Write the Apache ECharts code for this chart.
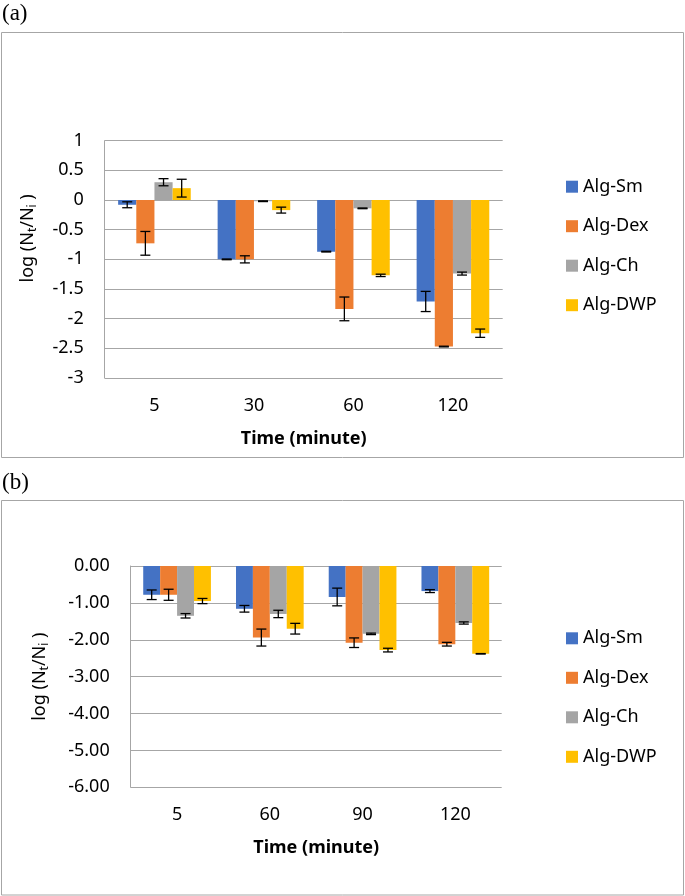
<!DOCTYPE html>
<html>
<head>
<meta charset="utf-8">
<script src="https://cdn.jsdelivr.net/npm/echarts@6/dist/echarts.min.js"></script>
<style>html,body{margin:0;padding:0;background:#fff}#c{width:685px;height:896px}</style>
</head>
<body>
<div id="c"></div>
<script>
// ---- data ----
const seriesNames = ['Alg-Sm', 'Alg-Dex', 'Alg-Ch', 'Alg-DWP'];
const colors = ['#4472C4', '#ED7D31', '#A5A5A5', '#FFC000'];

// panel (a)
const categoriesA = ['5', '30', '60', '120'];
const smA = [-0.08, -1.0, -0.87, -1.71];
const smAErr = [0.05, 0.006, 0.006, 0.17];
const dexA = [-0.73, -1.0, -1.835, -2.47];
const dexAErr = [0.2, 0.06, 0.2, 0.006];
const chA = [0.30, -0.02, -0.14, -1.24];
const chAErr = [0.06, 0.006, 0.006, 0.025];
const dwpA = [0.2, -0.17, -1.27, -2.245];
const dwpAErr = [0.15, 0.05, 0.02, 0.07];
const yTicksA = { min: -3, max: 1, interval: 0.5 };

// panel (b)
const categoriesB = ['5', '60', '90', '120'];
const smB = [-0.78, -1.16, -0.84, -0.68];
const smBErr = [0.13, 0.09, 0.24, 0.04];
const dexB = [-0.78, -1.94, -2.08, -2.12];
const dexBErr = [0.15, 0.23, 0.13, 0.05];
const chB = [-1.35, -1.30, -1.84, -1.545];
const chBErr = [0.06, 0.10, 0.02, 0.03];
const dwpB = [-0.95, -1.70, -2.28, -2.38];
const dwpBErr = [0.07, 0.145, 0.05, 0.006];
const yTicksB = { min: -6, max: 0, interval: 1 };

const xTitle = 'Time (minute)';
const yTitle = 'log (N{s|t}/N{s|i} )';

// ---- chart ----
const FONT = 'Noto Sans';
const GAP = 0.27;
const chart = echarts.init(document.getElementById('c'), null, { renderer: 'canvas' });

function barSeries(name, data, idx, g) {
  return {
    name: name, type: 'bar', data: data, xAxisIndex: g, yAxisIndex: g,
    barGap: '0%', barCategoryGap: (GAP * 100) + '%',
    itemStyle: { color: colors[idx] }, z: 2, animation: false
  };
}
function errSeries(name, data, err, idx, g) {
  return {
    name: name, type: 'custom', xAxisIndex: g, yAxisIndex: g, z: 10, animation: false,
    silent: true,
    data: data.map((v, i) => [i, v, err[i]]),
    encode: { x: 0, y: 1 },
    renderItem: function (params, api) {
      const band = api.size([1, 0])[0];
      const bw = band * (1 - GAP) / 4;
      const ci = api.value(0), v = api.value(1), e = api.value(2);
      const c = api.coord([ci, v]);
      const x = c[0] + (idx - 1.5) * bw;
      const yt = api.coord([ci, v + e])[1];
      const yb = api.coord([ci, v - e])[1];
      const cap = 5;
      const st = { stroke: '#000', lineWidth: 1.3 };
      return {
        type: 'group', children: [
          { type: 'line', shape: { x1: x, y1: yt, x2: x, y2: yb }, style: st },
          { type: 'line', shape: { x1: x - cap, y1: yt, x2: x + cap, y2: yt }, style: st },
          { type: 'line', shape: { x1: x - cap, y1: yb, x2: x + cap, y2: yb }, style: st }
        ]
      };
    }
  };
}

const dataA = [smA, dexA, chA, dwpA], errA = [smAErr, dexAErr, chAErr, dwpAErr];
const dataB = [smB, dexB, chB, dwpB], errB = [smBErr, dexBErr, chBErr, dwpBErr];
const series = [];
seriesNames.forEach((n, i) => series.push(barSeries(n, dataA[i], i, 0)));
seriesNames.forEach((n, i) => series.push(barSeries(n, dataB[i], i, 1)));
seriesNames.forEach((n, i) => series.push(errSeries(n, dataA[i], errA[i], i, 0)));
seriesNames.forEach((n, i) => series.push(errSeries(n, dataB[i], errB[i], i, 1)));

function xAxis(cats, g) {
  return {
    type: 'category', data: cats, gridIndex: g, position: 'bottom',
    axisLine: { show: false }, axisTick: { show: false },
    axisLabel: { fontFamily: FONT, fontSize: 18, color: '#000', margin: 19 },
    name: xTitle, nameLocation: 'middle', nameGap: 52,
    nameTextStyle: { fontFamily: FONT, fontSize: 18, fontWeight: 'bold', color: '#000' }
  };
}
function yAxis(t, g, fmt, gap, pad) {
  return {
    type: 'value', gridIndex: g, min: t.min, max: t.max, interval: t.interval,
    axisLine: { show: true, onZero: false, lineStyle: { color: '#a6a6a6', width: 1 } },
    axisTick: { show: false },
    splitLine: { show: true, lineStyle: { color: '#a6a6a6', width: 1 } },
    axisLabel: { fontFamily: FONT, fontSize: 18, color: '#000', margin: 21, formatter: fmt },
    name: yTitle, nameLocation: 'middle', nameGap: gap, nameRotate: 90,
    nameTextStyle: {
      fontFamily: FONT, fontSize: 18, color: '#000', lineHeight: 22, padding: pad,
      rich: { s: { fontFamily: FONT, fontSize: 12, lineHeight: 12, verticalAlign: 'bottom', color: '#000' } }
    }
  };
}

function legend(top) {
  return {
    data: seriesNames, orient: 'vertical', left: 566, top: top, padding: 0,
    icon: 'rect', itemWidth: 12, itemHeight: 12, itemGap: 19.5,
    textStyle: { fontFamily: FONT, fontSize: 18, color: '#000', lineHeight: 20, padding: [0, 0, 0, 0] },
    selectedMode: false
  };
}

const option = {
  animation: false,
  backgroundColor: '#fff',
  grid: [
    { left: 104.7, top: 140.7, width: 398, height: 237.3 },
    { left: 130.7, top: 566, width: 371, height: 221.3 }
  ],
  xAxis: [xAxis(categoriesA, 0), xAxis(categoriesB, 1)],
  yAxis: [
    yAxis(yTicksA, 0, v => String(v), 66, [0, 0, 0, 42]),
    yAxis(yTicksB, 1, v => v.toFixed(2), 80, [0, 0, 0, 0])
  ],
  legend: [legend(176.7), legend(628.3)],
  graphic: [
    { type: 'rect', shape: { x: 1.5, y: 32.5, width: 682, height: 425 }, style: { fill: 'none', stroke: '#a6a6a6', lineWidth: 1 }, z: -1 },
    { type: 'rect', shape: { x: 1.5, y: 500.5, width: 682, height: 394.5 }, style: { fill: 'none', stroke: '#a6a6a6', lineWidth: 1 }, z: -1 },
    { type: 'text', left: 2, top: 2, style: { text: '(a)', font: '23px "Liberation Serif"', fill: '#000' } },
    { type: 'text', left: 2, top: 471, style: { text: '(b)', font: '23px "Liberation Serif"', fill: '#000' } }
  ],
  series: series
};
chart.setOption(option);
</script>
</body>
</html>
